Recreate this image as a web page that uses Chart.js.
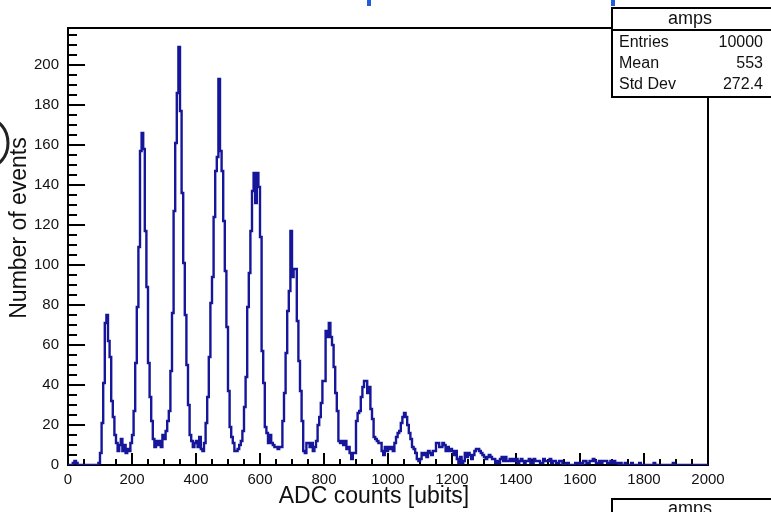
<!DOCTYPE html>
<html>
<head>
    <meta charset="utf-8">
    <title>amps</title>
    <style>
        html, body { margin: 0; padding: 0; background: #fff; }
        #wrap { width: 771px; height: 512px; }
    </style>
</head>
<body>
    <div id="wrap"><canvas id="ampsChart" width="771" height="512"></canvas></div>

    <script src="https://cdn.jsdelivr.net/npm/chart.js"></script>
    <script>
        // histogram "amps": 400 bins of 5 ADC counts from 0 to 2000
        const xMin = 0;
        const xMax = 2000;
        const binWidth = 5;
        const binCounts = [
            0, 0, 0, 1, 2, 1, 0, 0, 0, 0, 0, 0, 0, 0, 0, 0, 0, 0, 0, 1,
            6, 21, 41, 71, 75, 62, 54, 32, 24, 15, 11, 7, 10, 13, 7, 10, 6, 8, 7, 11,
            15, 27, 51, 79, 109, 157, 166, 158, 117, 89, 51, 34, 22, 13, 9, 12, 10, 12, 9, 15,
            13, 17, 22, 27, 47, 76, 127, 161, 186, 209, 177, 136, 101, 75, 50, 30, 15, 12, 9, 11,
            12, 9, 14, 8, 7, 11, 21, 34, 54, 81, 94, 124, 147, 154, 193, 157, 147, 122, 97, 69,
            37, 19, 14, 11, 7, 7, 8, 10, 12, 17, 29, 44, 79, 96, 117, 137, 146, 131, 146, 139,
            114, 57, 41, 19, 16, 11, 15, 11, 10, 9, 9, 8, 9, 9, 22, 36, 56, 77, 87, 117,
            94, 98, 98, 72, 52, 37, 22, 7, 6, 11, 11, 9, 11, 7, 9, 12, 20, 24, 31, 42,
            42, 67, 64, 71, 64, 60, 49, 36, 27, 12, 11, 12, 10, 12, 8, 9, 6, 3, 6, 6,
            22, 26, 27, 34, 39, 42, 42, 36, 39, 28, 23, 14, 13, 12, 11, 11, 7, 5, 9, 7,
            9, 8, 9, 7, 11, 14, 16, 17, 21, 24, 26, 24, 20, 16, 13, 9, 8, 6, 3, 2,
            3, 6, 5, 6, 4, 7, 6, 5, 7, 7, 11, 11, 9, 9, 11, 10, 7, 9, 7, 8,
            7, 5, 7, 3, 1, 4, 1, 2, 6, 4, 6, 5, 3, 5, 7, 8, 8, 7, 6, 5,
            4, 3, 4, 5, 4, 3, 3, 1, 2, 1, 3, 4, 2, 4, 2, 2, 3, 2, 3, 2,
            3, 1, 2, 3, 2, 1, 2, 2, 3, 1, 1, 3, 2, 2, 2, 1, 1, 3, 2, 2,
            2, 3, 1, 2, 2, 1, 1, 2, 2, 0, 0, 1, 1, 0, 0, 0, 0, 1, 1, 0,
            1, 0, 2, 2, 1, 1, 2, 2, 3, 2, 1, 1, 2, 1, 2, 2, 2, 1, 1, 2,
            1, 2, 1, 1, 0, 1, 0, 0, 1, 0, 0, 0, 1, 0, 0, 0, 0, 1, 0, 0,
            0, 0, 0, 0, 0, 0, 1, 0, 0, 0, 0, 0, 0, 0, 0, 0, 0, 0, 1, 0,
            0, 0, 0, 0, 0, 0, 0, 0, 0, 0, 0, 0, 0, 0, 0, 0, 0, 0, 0, 0
        ];

        const yMin = 0;
        const yMax = 218.5;
        const xTickStep = 200;
        const xMinorStep = 50;
        const yTickStep = 20;
        const yMinorStep = 5;

        const xTitle = 'ADC counts [ubits]';
        const yTitle = 'Number of events';
        const statsTitle = 'amps';
        const statsLabels = ['Entries', 'Mean', 'Std Dev'];
        const statsValues = ['10000', '553', '272.4'];

        const fontFamily = '"Liberation Sans", Arial, Helvetica, sans-serif';
        const inkColor = '#111';
        const histColor = '#16169a';

        // bin left edges, plus closing point at the upper edge
        const histPoints = binCounts.map((c, i) => ({ x: xMin + i * binWidth, y: c }));
        histPoints.push({ x: xMax, y: binCounts[binCounts.length - 1] });

        const rootStyle = {
            id: 'rootStyle',
            beforeDatasetsDraw(chart) {
                const { ctx, chartArea: a, scales: { x, y } } = chart;
                ctx.save();
                ctx.strokeStyle = '#000';
                ctx.lineWidth = 2;
                ctx.beginPath();
                for (let v = xMin; v <= xMax; v += xMinorStep) {
                    const px = Math.round(x.getPixelForValue(v));
                    const len = v % xTickStep === 0 ? 12 : 6;
                    ctx.moveTo(px, a.bottom);
                    ctx.lineTo(px, a.bottom - len);
                }
                for (let v = yMin; v <= yMax; v += yMinorStep) {
                    const py = Math.round(y.getPixelForValue(v));
                    const len = v % yTickStep === 0 ? 17 : 9;
                    ctx.moveTo(a.left, py);
                    ctx.lineTo(a.left + len, py);
                }
                ctx.stroke();
                ctx.strokeRect(a.left, a.top, a.right - a.left, a.bottom - a.top);
                ctx.restore();
            },
            afterDraw(chart) {
                const { ctx } = chart;
                ctx.save();
                ctx.fillStyle = inkColor;

                // axis titles
                ctx.font = '23px ' + fontFamily;
                ctx.textAlign = 'center';
                ctx.textBaseline = 'middle';
                ctx.fillText(xTitle, 374, 497);
                ctx.save();
                ctx.translate(20, 228);
                ctx.rotate(-Math.PI / 2);
                ctx.fillText(yTitle, 0, 0);
                ctx.restore();

                // stats box
                ctx.fillStyle = '#fff';
                ctx.fillRect(612, 8, 170, 89);
                ctx.strokeStyle = '#000';
                ctx.lineWidth = 2;
                ctx.strokeRect(612, 8, 170, 89);
                ctx.beginPath();
                ctx.moveTo(612, 30);
                ctx.lineTo(771, 30);
                ctx.stroke();
                ctx.fillStyle = inkColor;
                ctx.font = '18px ' + fontFamily;
                ctx.textAlign = 'center';
                ctx.fillText(statsTitle, 690, 19);
                ctx.font = '16px ' + fontFamily;
                statsLabels.forEach((lab, i) => {
                    const ty = 43 + i * 21;
                    ctx.textAlign = 'left';
                    ctx.fillText(lab, 619, ty);
                    ctx.textAlign = 'right';
                    ctx.fillText(statsValues[i], 763, ty);
                });

                // second stats box peeking in at the bottom
                ctx.fillStyle = '#fff';
                ctx.fillRect(612, 499, 170, 40);
                ctx.strokeRect(612, 499, 170, 40);
                ctx.fillStyle = inkColor;
                ctx.font = '18px ' + fontFamily;
                ctx.textAlign = 'center';
                ctx.textBaseline = 'alphabetic';
                ctx.fillText(statsTitle, 690, 514);

                // cropped bits of neighbouring content
                ctx.fillStyle = '#1f5ed8';
                ctx.fillRect(367, 0, 4, 6);
                ctx.fillRect(611, 0, 4, 6);
                ctx.strokeStyle = '#222';
                ctx.lineWidth = 3;
                ctx.beginPath();
                ctx.ellipse(-12, 143, 20, 24, 0, -Math.PI / 2, Math.PI / 2);
                ctx.stroke();
                ctx.restore();
            }
        };

        const chart = new Chart(document.getElementById('ampsChart'), {
            type: 'line',
            data: {
                datasets: [{
                    label: statsTitle,
                    data: histPoints,
                    borderColor: histColor,
                    borderWidth: 2.4,
                    stepped: 'before',
                    pointRadius: 0,
                    fill: false,
                    tension: 0
                }]
            },
            options: {
                responsive: false,
                devicePixelRatio: 1,
                animation: false,
                events: [],
                layout: { padding: { top: 28, right: 63, left: 0, bottom: 0 } },
                plugins: {
                    legend: { display: false },
                    tooltip: { enabled: false }
                },
                scales: {
                    x: {
                        type: 'linear',
                        min: xMin,
                        max: xMax,
                        grid: { display: false, drawTicks: false },
                        border: { display: false },
                        afterFit: s => { s.height = 47; },
                        ticks: {
                            stepSize: xTickStep,
                            autoSkip: false,
                            maxRotation: 0,
                            padding: 6,
                            color: inkColor,
                            font: { family: fontFamily, size: 15 },
                            callback: v => String(v)
                        }
                    },
                    y: {
                        type: 'linear',
                        min: yMin,
                        max: yMax,
                        grid: { display: false, drawTicks: false },
                        border: { display: false },
                        afterFit: s => { s.width = 68; },
                        ticks: {
                            stepSize: yTickStep,
                            includeBounds: false,
                            padding: 9,
                            color: inkColor,
                            font: { family: fontFamily, size: 15 },
                            callback: v => String(v)
                        }
                    }
                }
            },
            plugins: [rootStyle]
        });
    </script>
</body>
</html>
